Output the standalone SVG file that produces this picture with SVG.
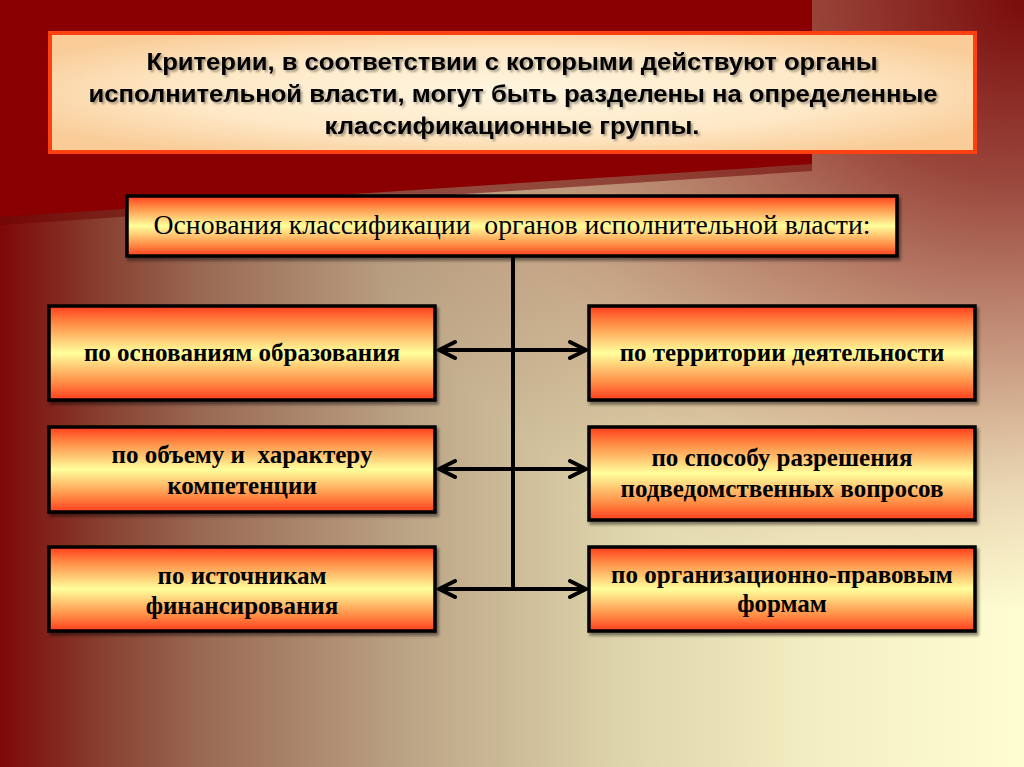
<svg xmlns="http://www.w3.org/2000/svg" width="1024" height="767" viewBox="0 0 1024 767">
<defs>
<linearGradient id="bg" x1="0" y1="0" x2="1" y2="0">
<stop offset="0" stop-color="#7d0808"/>
<stop offset="0.1" stop-color="#884030"/>
<stop offset="0.2" stop-color="#9a6a55"/>
<stop offset="0.4" stop-color="#bca486"/>
<stop offset="0.6" stop-color="#ddd3aa"/>
<stop offset="0.8" stop-color="#f4efc2"/>
<stop offset="1" stop-color="#fffdd2"/>
</linearGradient>
<radialGradient id="bgTop" gradientUnits="userSpaceOnUse" cx="1024" cy="0" r="720" gradientTransform="translate(1024 0) scale(1 0.85) translate(-1024 0)">
<stop offset="0" stop-color="#7a0c0c" stop-opacity="1"/>
<stop offset="0.3" stop-color="#7a0c0c" stop-opacity="0.75"/>
<stop offset="0.55" stop-color="#7a0c0c" stop-opacity="0.45"/>
<stop offset="0.8" stop-color="#7a0c0c" stop-opacity="0.15"/>
<stop offset="1" stop-color="#7a0c0c" stop-opacity="0"/>
</radialGradient>
<radialGradient id="titleFill" cx="0.5" cy="0.5" r="0.6">
<stop offset="0" stop-color="#fff6e0"/>
<stop offset="0.6" stop-color="#fee8c6"/>
<stop offset="1" stop-color="#f9cc98"/>
</radialGradient>
<linearGradient id="boxFill" x1="0" y1="0" x2="0" y2="1">
<stop offset="0" stop-color="#ff3c1c"/>
<stop offset="0.18" stop-color="#ff8a44"/>
<stop offset="0.5" stop-color="#ffff9c"/>
<stop offset="0.82" stop-color="#ff8a44"/>
<stop offset="1" stop-color="#ff3c1c"/>
</linearGradient>
<filter id="txtShadow" x="-5%" y="-20%" width="110%" height="150%">
<feDropShadow dx="2" dy="2" stdDeviation="0.8" flood-color="#000" flood-opacity="0.35"/>
</filter>
<filter id="boxShadow" x="-5%" y="-10%" width="110%" height="130%">
<feDropShadow dx="2" dy="3" stdDeviation="1.5" flood-color="#000" flood-opacity="0.45"/>
</filter>
<marker id="chev" viewBox="0 0 20 20" refX="18" refY="10" markerWidth="20" markerHeight="20" markerUnits="userSpaceOnUse" orient="auto-start-reverse">
<path d="M2,2 L18,10 L2,18" fill="none" stroke="#000" stroke-width="4" stroke-linecap="round" stroke-linejoin="round"/>
</marker>
</defs>
<style>
.box{fill:url(#boxFill);stroke:#000;stroke-width:3.5;filter:url(#boxShadow)}
.bt{font-family:"Liberation Serif","Times New Roman",serif;font-weight:bold;font-size:25px;fill:#000;text-anchor:middle}
.tt{font-family:"Liberation Sans",Arial,sans-serif;font-weight:bold;font-size:23.5px;fill:#000;text-anchor:middle}
.ln{stroke:#000;stroke-width:4;fill:none}
</style>
<rect width="1024" height="767" fill="url(#bg)"/>
<rect width="1024" height="767" fill="url(#bgTop)"/>
<polygon points="0,0 812,0 812,171 0,225" fill="#6e0606" opacity="0.55"/>
<polygon points="0,0 812,0 812,164 0,217" fill="#8a0000"/>

<g id="title">
<rect x="50" y="33" width="925" height="119" fill="url(#titleFill)" stroke="#ff4010" stroke-width="4"/>
<g filter="url(#txtShadow)">
<text class="tt" x="512" y="70" textLength="731" lengthAdjust="spacingAndGlyphs">Критерии, в соответствии с которыми действуют органы</text>
<text class="tt" x="513" y="102" textLength="849" lengthAdjust="spacingAndGlyphs">исполнительной власти, могут быть разделены на определенные</text>
<text class="tt" x="512" y="134" textLength="375" lengthAdjust="spacingAndGlyphs">классификационные группы.</text>
</g>
</g>

<g id="connectors">
<line class="ln" x1="513" y1="256" x2="513" y2="589"/>
<line class="ln" x1="439" y1="350" x2="586" y2="350" marker-start="url(#chev)" marker-end="url(#chev)"/>
<line class="ln" x1="439" y1="469" x2="586" y2="469" marker-start="url(#chev)" marker-end="url(#chev)"/>
<line class="ln" x1="439" y1="589" x2="586" y2="589" marker-start="url(#chev)" marker-end="url(#chev)"/>
</g>

<g id="header">
<rect class="box" x="127" y="196" width="770" height="60"/>
<text x="512" y="234" xml:space="preserve" font-family="Liberation Serif, Times New Roman, serif" font-size="27" fill="#000" text-anchor="middle" textLength="717" lengthAdjust="spacingAndGlyphs">Основания классификации  органов исполнительной власти:</text>
</g>

<g id="n-osnovaniya">
<rect class="box" x="49" y="306" width="386" height="94"/>
<text class="bt" x="242" y="361">по основаниям образования</text>
</g>
<g id="n-obem">
<rect class="box" x="49" y="427" width="386" height="85"/>
<text class="bt" x="242" y="463" xml:space="preserve">по объему и  характеру</text>
<text class="bt" x="242" y="494">компетенции</text>
</g>
<g id="n-istochniki">
<rect class="box" x="49" y="547" width="386" height="84"/>
<text class="bt" x="242" y="584">по источникам</text>
<text class="bt" x="242" y="614">финансирования</text>
</g>
<g id="n-territoriya">
<rect class="box" x="589" y="306" width="386" height="94"/>
<text class="bt" x="782" y="361">по территории деятельности</text>
</g>
<g id="n-sposob">
<rect class="box" x="589" y="427" width="386" height="93"/>
<text class="bt" x="782" y="466">по способу разрешения</text>
<text class="bt" x="782" y="497">подведомственных вопросов</text>
</g>
<g id="n-formy">
<rect class="box" x="589" y="547" width="386" height="84"/>
<text class="bt" x="782" y="583">по организационно-правовым</text>
<text class="bt" x="782" y="612">формам</text>
</g>
</svg>
